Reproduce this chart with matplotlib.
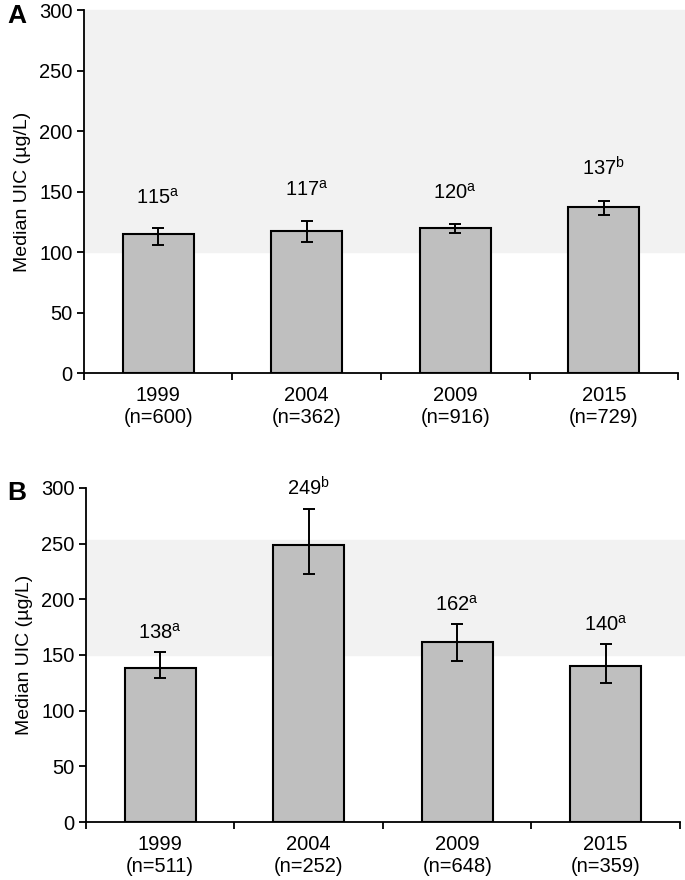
import matplotlib
matplotlib.use("Agg")
import matplotlib.pyplot as plt
import numpy as np

plt.rcParams['font.family'] = ['Liberation Sans', 'DejaVu Sans']
plt.rcParams['mathtext.fontset'] = 'custom'
plt.rcParams['mathtext.rm'] = 'Liberation Sans'

# --- Data ---
years = ["1999", "2004", "2009", "2015"]

n_a = [600, 362, 916, 729]
median_a = [115, 117, 120, 137]
lo_a = [106, 108.5, 116, 130.5]
hi_a = [119.5, 126, 123.5, 142.5]
sup_a = ["a", "a", "a", "b"]
band_a = (100, 300)

n_b = [511, 252, 648, 359]
median_b = [138, 249, 162, 140]
lo_b = [129, 223, 144.5, 124.5]
hi_b = [152.5, 281, 177.5, 159.5]
sup_b = ["a", "b", "a", "a"]
band_b = (150, 253)

BAR = "#bfbfbf"
SHADE = "#f2f2f2"
FS = 14.5


def panel(ax, n, med, lo, hi, sup, band, gap):
    x = np.arange(len(years))
    ax.axhspan(band[0], band[1], xmin=0, xmax=1.02, color=SHADE, zorder=0, clip_on=False)
    ax.bar(x, med, width=0.48, color=BAR, edgecolor="black", linewidth=1.5, zorder=2)
    err = [np.array(med) - np.array(lo), np.array(hi) - np.array(med)]
    ax.errorbar(x, med, yerr=err, fmt="none", ecolor="black", elinewidth=1.4,
                capsize=4, capthick=1.4, zorder=3)
    for xi, m, h, s in zip(x, med, hi, sup):
        ax.annotate(f"{m}$^{{\\mathrm{{{s}}}}}$", (xi, h), xytext=(0, gap),
                    textcoords="offset points", ha="center", va="bottom", fontsize=FS)

    ax.set_xlim(-0.5, len(years) - 0.5)
    ax.set_ylim(0, 300)
    ax.set_yticks(range(0, 301, 50))
    ax.set_xticks(x)
    ax.set_xticklabels([f"{y}\n(n={k})" for y, k in zip(years, n)], fontsize=FS)
    ax.set_xticks(np.arange(-0.5, len(years), 1.0), minor=True)
    ax.tick_params(axis="x", which="major", length=0, pad=9)
    ax.tick_params(axis="x", which="minor", length=5, width=1.3, direction="out")
    ax.tick_params(axis="y", labelsize=FS, length=5, width=1.3, direction="out", pad=3)
    ax.spines["top"].set_visible(False)
    ax.spines["right"].set_visible(False)
    ax.spines["left"].set_linewidth(1.3)
    ax.spines["bottom"].set_linewidth(1.3)
    ax.set_facecolor("none")
    ax.set_ylabel("Median UIC (µg/L)", fontsize=14, labelpad=6)


fig = plt.figure(figsize=(6.85, 8.8), dpi=100)
ax_a = fig.add_axes([0.1226, 0.5761, 0.8672, 0.4125])
ax_b = fig.add_axes([0.1255, 0.0659, 0.8672, 0.3796])

panel(ax_a, n_a, median_a, lo_a, hi_a, sup_a, band_a, 15)
panel(ax_b, n_b, median_b, lo_b, hi_b, sup_b, band_b, 7)

fig.text(17 / 685, 1 - 16 / 880, "A", fontsize=19, fontweight="bold", ha="center", va="center")
fig.text(17 / 685, 1 - 493 / 880, "B", fontsize=19, fontweight="bold", ha="center", va="center")

fig.savefig("out.png", dpi=100)
